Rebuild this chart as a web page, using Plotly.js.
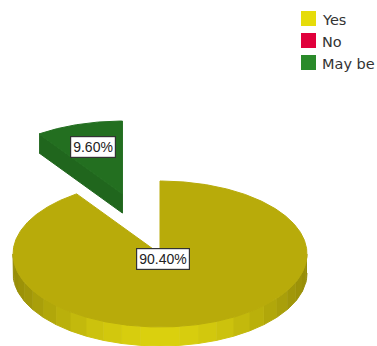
<!DOCTYPE html>
<html><head><meta charset="utf-8">
<script src="https://cdn.plot.ly/plotly-3.0.1.min.js"></script>
<style>html,body{margin:0;padding:0;background:#fff}#c{width:377px;height:346px}</style>
</head><body><div id="c"></div>
<script>
const categories = ["Yes", "No", "May be"];
const shares = [90.4, 0, 9.6];
const labels = ["90.40%", "", "9.60%"];
const legendColors = ["#e6dc0a", "#e0003c", "#2a8a2a"];
const topColors = ["#b8ab0a", "#c00030", "#236f20"];
const sideColors = ["#b8ab0a", "#c00030", "#20661d"];

const cx = 160, cy = 254, rx = 147, ry = 73, depth = 19, explode = 0.86;
const rad = d => d * Math.PI / 180;
const pt = (a, ox, oy, dy) => [cx + ox + rx * Math.sin(rad(a)), cy + oy + ry * -Math.cos(rad(a)) + (dy || 0)];
const traces = [];
function poly(pts, color) {
  traces.push({type: "scatter", mode: "lines", x: pts.map(p => p[0]), y: pts.map(p => p[1]),
    fill: "toself", fillcolor: color, line: {color: color, width: 1},
    hoverinfo: "skip", showlegend: false});
}
function shade(a) {
  const k = Math.max(0, Math.cos(rad(a - 180)));
  const mix = Math.pow(k, 2.2);
  const r = Math.round(150 + mix * 68), g = Math.round(140 + mix * 68), b = Math.round(8 + mix * 6);
  return `rgb(${r},${g},${b})`;
}
const total = shares.reduce((s, v) => s + v, 0);
let start = 0;
const annots = [];
const band = 7.5;
categories.forEach((name, i) => {
  const sweep = shares[i] / total * 360;
  if (sweep <= 0) return;
  const end = start + sweep, mid = (start + end) / 2;
  const large = sweep > 180;
  const ox = large ? 0 : rx * Math.sin(rad(mid)) * explode;
  const oy = large ? 0 : -ry * Math.cos(rad(mid)) * explode;
  if (large) {
    for (let a = 90; a < 270; a += band) {
      const b = Math.min(a + band, 270), q = [];
      for (let t = a; t <= b + 0.01; t += 1.5) q.push(pt(t, ox, oy));
      for (let t = b; t >= a - 0.01; t -= 1.5) q.push(pt(t, ox, oy, depth));
      poly(q, shade((a + b) / 2));
    }
  } else {
    poly([pt(start, ox, oy), [cx + ox, cy + oy], [cx + ox, cy + oy + depth], pt(start, ox, oy, depth)], sideColors[i]);
  }
  const top = [[cx + ox, cy + oy]];
  const n = Math.ceil(sweep * 2);
  for (let k = 0; k <= n; k++) top.push(pt(start + sweep * k / n, ox, oy));
  top.push([cx + ox, cy + oy]);
  poly(top, topColors[i]);
  annots.push({i, large});
  start = end;
});
// legend: swatch markers with their names
const legendX = 308.5, legendY = [18.5, 40.5, 62.5];
traces.push({type: "scatter", mode: "markers", x: categories.map(() => legendX), y: legendY,
  marker: {symbol: "square", size: 15, color: legendColors, line: {width: 0}}, hoverinfo: "skip", showlegend: false});
const annotations = categories.map((name, i) => ({
  x: 319.5, y: legendY[i] + 1, xref: "x", yref: "y", xanchor: "left", yanchor: "middle", showarrow: false,
  text: name, font: {family: "DejaVu Sans", size: 14.5, color: "#333"}
})).concat(annots.map(a => ({
  x: a.large ? 162.5 : 93, y: a.large ? 258.5 : 147, xref: "x", yref: "y", showarrow: false,
  text: labels[a.i], font: {family: "Liberation Sans", size: 14, color: "#222"},
  bgcolor: "#fff", bordercolor: "#333", borderwidth: 1.2, borderpad: 2
})));

Plotly.newPlot("c", traces, {
  width: 377, height: 346, margin: {l: 0, r: 0, t: 0, b: 0, autoexpand: false},
  paper_bgcolor: "#fff", plot_bgcolor: "#fff",
  xaxis: {range: [0, 377], visible: false, fixedrange: true},
  yaxis: {range: [346, 0], visible: false, fixedrange: true},
  showlegend: false,
  annotations
}, {displayModeBar: false, staticPlot: true});
</script></body></html>
